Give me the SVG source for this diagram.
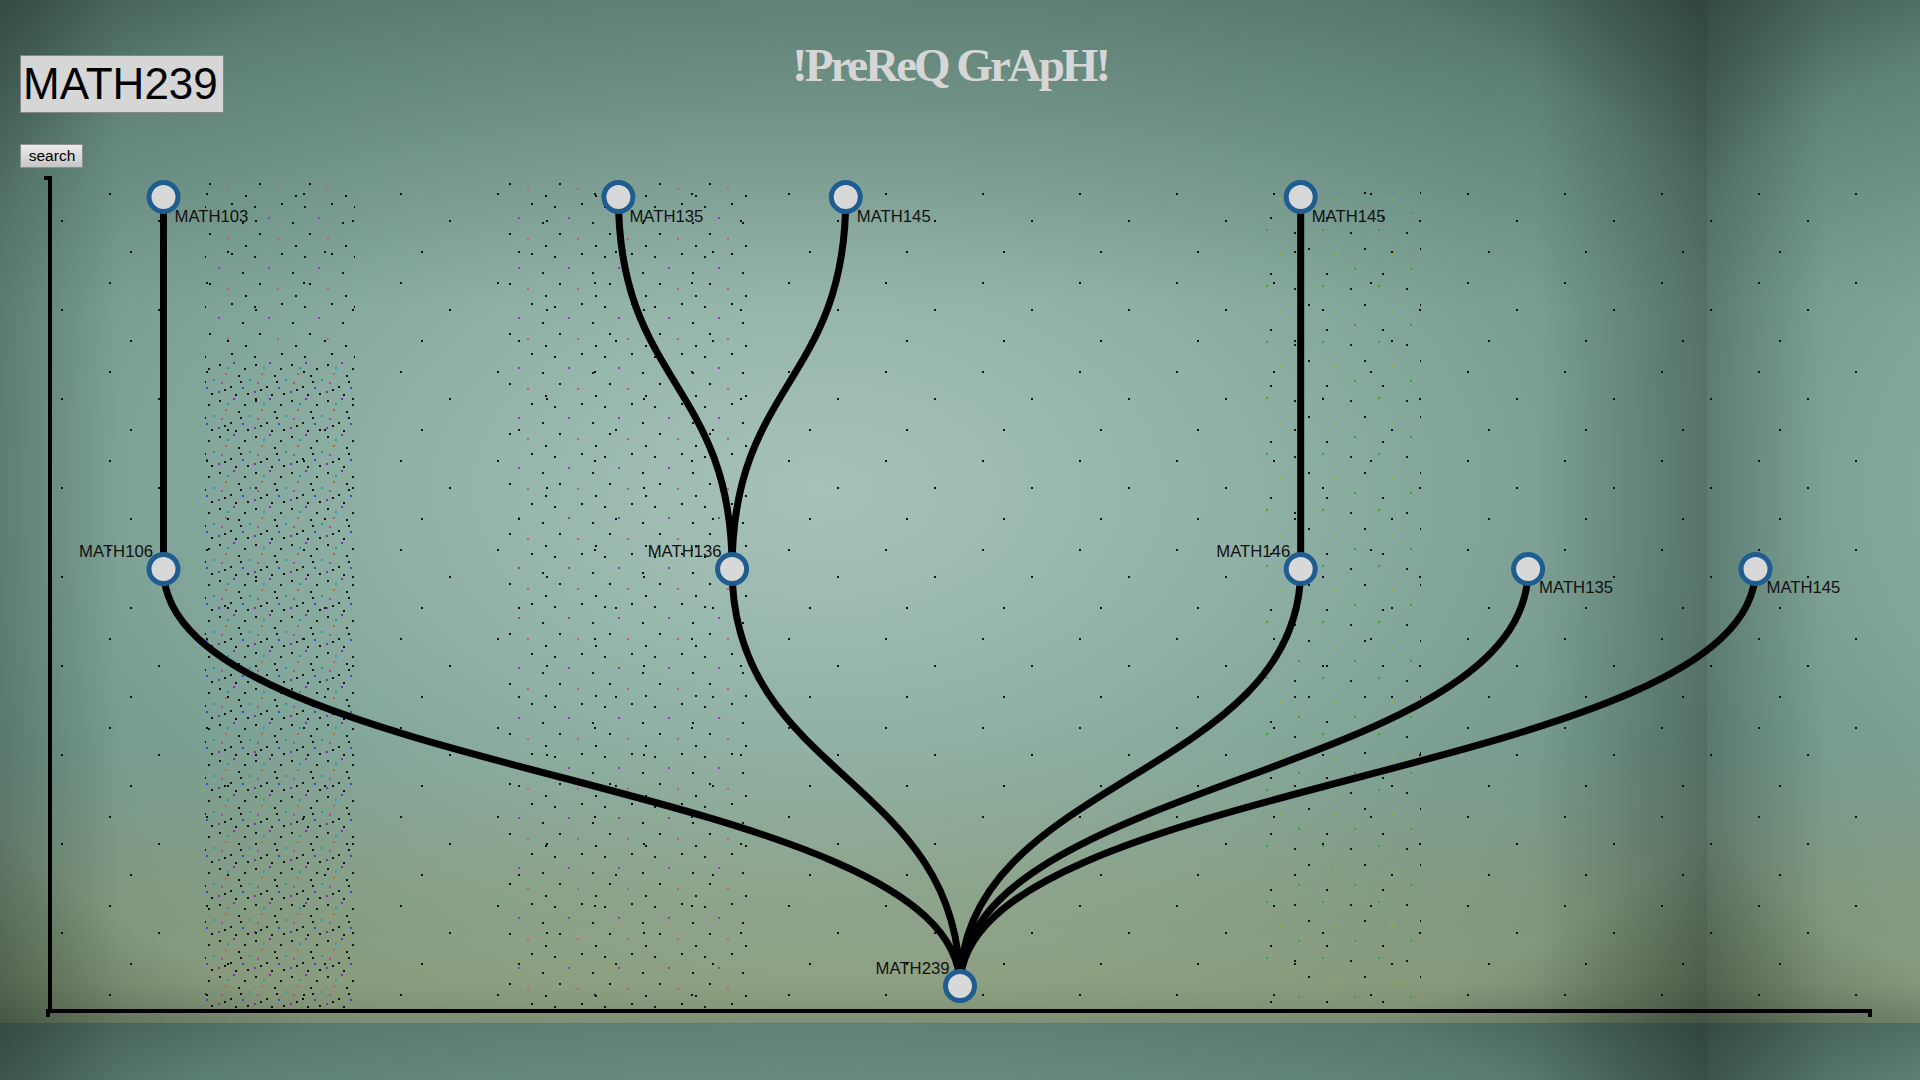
<svg xmlns="http://www.w3.org/2000/svg" width="1920" height="1080" viewBox="0 0 1920 1080">
<defs>
<style>
.node circle{fill:#d8d8d8;stroke:#1f5c8f;stroke-width:5}
.node text{font-family:"Liberation Sans",Arial,sans-serif;font-size:16.7px;fill:#111}
.lbl-l{text-anchor:end}
.link{fill:none;stroke:#000;stroke-width:7}
.axis{fill:none;stroke:#000;stroke-width:4}
</style>
<radialGradient id="bgR" cx="0.48" cy="0.48" r="0.72">
<stop offset="0" stop-color="#a7c3b9"/>
<stop offset="0.35" stop-color="#90b1a5"/>
<stop offset="0.7" stop-color="#74998d"/>
<stop offset="1" stop-color="#5c8075"/>
</radialGradient>
<linearGradient id="bgTop" x1="0" y1="0" x2="0" y2="1">
<stop offset="0" stop-color="#19302a" stop-opacity="0.25"/>
<stop offset="0.3" stop-color="#19302a" stop-opacity="0"/>
</linearGradient>
<linearGradient id="bgBot" x1="0" y1="0" x2="0" y2="1">
<stop offset="0.72" stop-color="#b4aa6e" stop-opacity="0"/>
<stop offset="0.96" stop-color="#b0a870" stop-opacity="0.42"/>
<stop offset="1" stop-color="#8a8a60" stop-opacity="0.5"/>
</linearGradient>
<linearGradient id="bgRight" x1="0" y1="0" x2="1" y2="0">
<stop offset="0.9" stop-color="#14201a" stop-opacity="0"/>
<stop offset="1" stop-color="#14201a" stop-opacity="0.3"/>
</linearGradient>
<radialGradient id="bgCorners" cx="0.5" cy="0.5" r="0.75">
<stop offset="0.78" stop-color="#14201a" stop-opacity="0"/>
<stop offset="1" stop-color="#14201a" stop-opacity="0.4"/>
</radialGradient>
<linearGradient id="bgLeft" x1="0" y1="0" x2="1" y2="0">
<stop offset="0" stop-color="#14231e" stop-opacity="0.25"/>
<stop offset="0.07" stop-color="#14231e" stop-opacity="0"/>
</linearGradient>
<pattern id="bgTile" patternUnits="userSpaceOnUse" x="0" y="0" width="1707" height="1023">
<rect width="1707" height="1023" fill="url(#bgR)"/>
<rect width="1707" height="1023" fill="url(#bgTop)"/>
<rect width="1707" height="1023" fill="url(#bgBot)"/>
<rect width="1707" height="1023" fill="url(#bgRight)"/>
<rect width="1707" height="1023" fill="url(#bgCorners)"/>
<rect width="1707" height="1023" fill="url(#bgLeft)"/>
</pattern>
<linearGradient id="btn" x1="0" y1="0" x2="0" y2="1">
<stop offset="0" stop-color="#ededed"/>
<stop offset="1" stop-color="#c4c4c4"/>
</linearGradient>
<pattern id="dDense" patternUnits="userSpaceOnUse" width="36" height="36">
<rect x="3" y="4" width="2" height="2" fill="#111"/>
<rect x="17" y="2" width="2" height="2" fill="#8a2bb0"/>
<rect x="28" y="8" width="2" height="2" fill="#111"/>
<rect x="9" y="13" width="2" height="2" fill="#b5683a"/>
<rect x="22" y="15" width="2" height="2" fill="#111"/>
<rect x="33" y="19" width="2" height="2" fill="#1e9aa8"/>
<rect x="5" y="22" width="2" height="2" fill="#b04aa0"/>
<rect x="14" y="26" width="2" height="2" fill="#111"/>
<rect x="26" y="27" width="2" height="2" fill="#2f4fd0"/>
<rect x="31" y="33" width="2" height="2" fill="#111"/>
<rect x="2" y="31" width="2" height="2" fill="#8a2bb0"/>
<rect x="19" y="34" width="2" height="2" fill="#111"/>
<rect x="11" y="7" width="2" height="2" fill="#1e9aa8"/>
<rect x="24" y="21" width="2" height="2" fill="#111"/>
<rect x="8" y="29" width="2" height="2" fill="#111"/>
</pattern>
<pattern id="dMid" patternUnits="userSpaceOnUse" width="50" height="50">
<rect x="4" y="6" width="2" height="2" fill="#111"/>
<rect x="31" y="3" width="2" height="2" fill="#111"/>
<rect x="18" y="17" width="2" height="2" fill="#9a3ab8"/>
<rect x="42" y="22" width="2" height="2" fill="#111"/>
<rect x="9" y="33" width="2" height="2" fill="#111"/>
<rect x="27" y="38" width="2" height="2" fill="#c05a8a"/>
<rect x="45" y="45" width="2" height="2" fill="#111"/>
</pattern>
<pattern id="dGreen" patternUnits="userSpaceOnUse" width="56" height="56">
<rect x="6" y="8" width="2" height="2" fill="#111"/>
<rect x="34" y="5" width="2" height="2" fill="#3aa040"/>
<rect x="20" y="24" width="2" height="2" fill="#111"/>
<rect x="47" y="30" width="2" height="2" fill="#9ab030"/>
<rect x="10" y="44" width="2" height="2" fill="#3aa040"/>
<rect x="38" y="49" width="2" height="2" fill="#111"/>
</pattern>
<pattern id="dSparse" patternUnits="userSpaceOnUse" width="97" height="89">
<rect x="12" y="15" width="2" height="2" fill="#111"/>
<rect x="61" y="42" width="2" height="2" fill="#111"/>
<rect x="33" y="73" width="2" height="2" fill="#111"/>
</pattern>
</defs>

<g id="background">
<rect width="1920" height="1080" fill="url(#bgTile)"/>
<rect x="205" y="180" width="150" height="180" fill="url(#dMid)"/>
<rect x="205" y="360" width="150" height="650" fill="url(#dDense)"/>
<rect x="508" y="178" width="240" height="832" fill="url(#dMid)"/>
<rect x="515" y="700" width="200" height="310" fill="url(#dSparse)"/>
<rect x="1261" y="178" width="160" height="832" fill="url(#dGreen)"/>
<rect x="52" y="180" width="1818" height="828" fill="url(#dSparse)"/>
</g>

<g id="controls">
<rect x="20.5" y="55.5" width="203" height="57" fill="#d6d6d6" stroke="#868686" stroke-width="1"/>
<text x="23" y="99" font-family="Liberation Sans, Arial, sans-serif" font-size="44" fill="#000">MATH239</text>
<rect x="20.5" y="144.5" width="62" height="23" fill="url(#btn)" stroke="#8f8f8f" stroke-width="1"/>
<text x="52" y="161" text-anchor="middle" font-family="Liberation Sans, Arial, sans-serif" font-size="15.5" fill="#000">search</text>
</g>

<text id="title" x="792" y="81" font-family="Liberation Serif, Times New Roman, serif" font-weight="bold" font-size="47" letter-spacing="-3" fill="#d6d6d6">!PreReQ GrApH!</text>

<g id="axes">
<path class="axis" d="M44,178 H50 V1011"/>
<path class="axis" d="M48,1017 V1011 H1870 V1017"/>
</g>

<g id="links">
<path class="link" d="M163.5,197 L163.5,569"/>
<path class="link" d="M618.4,197 C618.4,383 732.1,383 732.1,569"/>
<path class="link" d="M845.8,197 C845.8,383 732.1,383 732.1,569"/>
<path class="link" d="M1300.7,197 L1300.7,569"/>
<path class="link" d="M163.5,569 C163.5,777.5 960,777.5 960,986"/>
<path class="link" d="M732.1,569 C732.1,777.5 960,777.5 960,986"/>
<path class="link" d="M1300.7,569 C1300.7,777.5 960,777.5 960,986"/>
<path class="link" d="M1528.1,569 C1528.1,777.5 960,777.5 960,986"/>
<path class="link" d="M1755.5,569 C1755.5,777.5 960,777.5 960,986"/>
</g>

<g id="n-math103" class="node"><circle cx="163.5" cy="197" r="14.5"/><text x="174.5" y="222">MATH103</text></g>
<g id="n-math135a" class="node"><circle cx="618.4" cy="197" r="14.5"/><text x="629.4" y="222">MATH135</text></g>
<g id="n-math145a" class="node"><circle cx="845.8" cy="197" r="14.5"/><text x="856.8" y="222">MATH145</text></g>
<g id="n-math145b" class="node"><circle cx="1300.7" cy="197" r="14.5"/><text x="1311.7" y="222">MATH145</text></g>
<g id="n-math106" class="node"><circle cx="163.5" cy="569" r="14.5"/><text class="lbl-l" x="153" y="557">MATH106</text></g>
<g id="n-math136" class="node"><circle cx="732.1" cy="569" r="14.5"/><text class="lbl-l" x="721.6" y="557">MATH136</text></g>
<g id="n-math146" class="node"><circle cx="1300.7" cy="569" r="14.5"/><text class="lbl-l" x="1290.2" y="557">MATH146</text></g>
<g id="n-math135b" class="node"><circle cx="1528.1" cy="569" r="14.5"/><text x="1539.1" y="593">MATH135</text></g>
<g id="n-math145c" class="node"><circle cx="1755.5" cy="569" r="14.5"/><text x="1766.5" y="593">MATH145</text></g>
<g id="n-math239" class="node"><circle cx="960" cy="986" r="14.5"/><text class="lbl-l" x="949.5" y="974">MATH239</text></g>
</svg>
